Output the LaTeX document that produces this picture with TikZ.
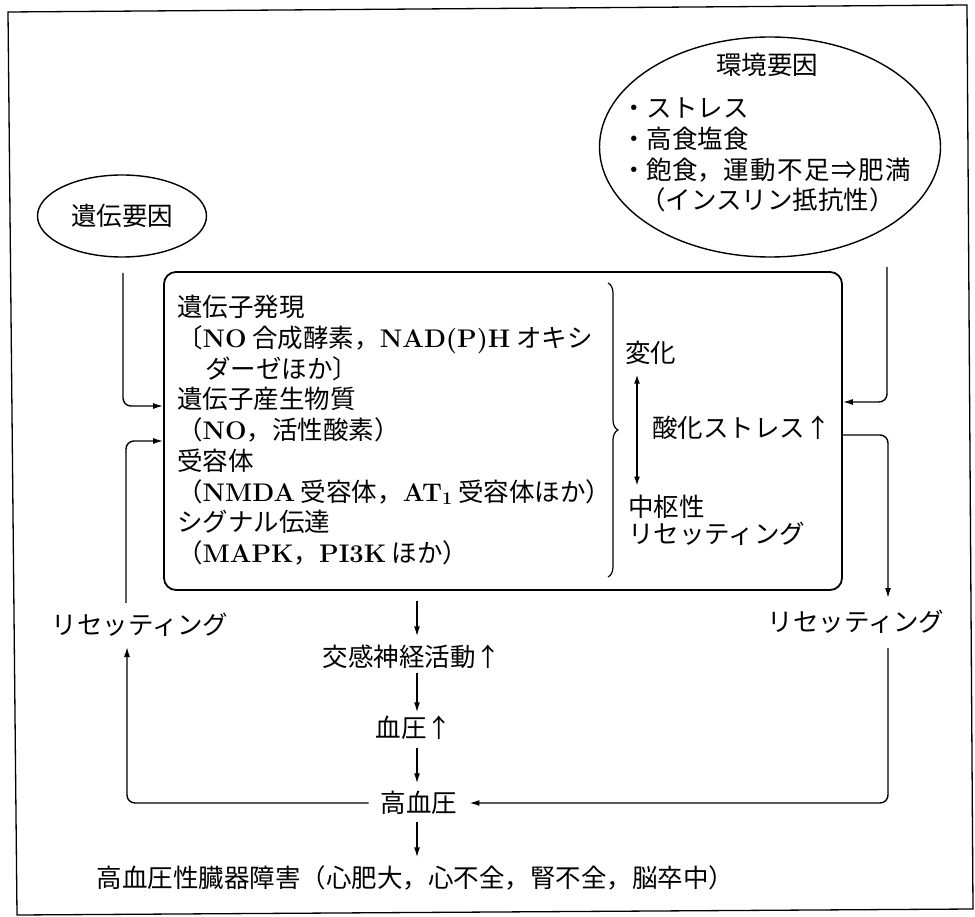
\documentclass[tikz,border=0pt]{standalone}
\usepackage{fontspec}
\newfontfamily\jp{Noto Sans CJK JP}
\usetikzlibrary{shapes.geometric,arrows.meta,calc,decorations.pathreplacing}
\newcommand\B[1]{{\normalfont\bfseries #1}}
\begin{document}
\begin{tikzpicture}[x=1pt,y=-1pt,
  ln/.style={line width=1.4pt},
  arr/.style={ln,-{Latex[length=10pt,width=6pt]}},
  arrtwo/.style={ln,{Latex[length=9pt,width=6pt]}-{Latex[length=9pt,width=6pt]}},
  jpf/.style={font=\jp\fontsize{25.5}{30.75}\selectfont},
  lab/.style={jpf,inner sep=3pt,text height=22pt,text depth=3pt},
  blk/.style={jpf,inner sep=0pt,align=left,anchor=north west},
  ell/.style={ellipse,draw,line width=1.4pt,inner sep=0pt}
]
\useasboundingbox (0,0) rectangle (975,917);
% outer frame
\draw[line width=1.3pt] (8,12) -- (967,5) -- (973,909) -- (17,915) -- cycle;

% factors
\node[ell,lab,minimum width=169pt,minimum height=82pt] (gen) at (122,216) {遺伝要因};
\node[ell,minimum width=341pt,minimum height=220pt] (env) at (770,147) {};
\node[lab] (envT) at (767,65) {環境要因};
\node[blk] (envL) at (621,95.5) {\rule{0pt}{22pt}・ストレス\\・高食塩食\\・飽食，{\addfontfeature{LetterSpace=6}運動不足⇒肥満}\\\hspace*{19pt}（インスリン抵抗性）};

% main box
\node[draw,line width=1.8pt,rounded corners=12pt,minimum width=678pt,minimum height=318pt,inner sep=0pt] (core) at (503,431) {};
\node[blk] (lst) at (177,294.5) {\rule{0pt}{22pt}遺伝子発現\\
〔\B{NO} 合成酵素，\B{NAD(P)H} オキシ\\
\hspace*{28pt}ダーゼほか〕\\
遺伝子産生物質\\
（\B{NO}，活性酸素）\\
受容体\\
（\B{NMDA} 受容体，\B{AT\textsubscript{1}} 受容体ほか）\\
シグナル伝達\\
（\B{MAPK}，\B{PI3K} ほか）};
\coordinate (b1) at (608,283);
\coordinate (b2) at (608,577);
\draw[line width=1.2pt,decorate,decoration={brace,amplitude=10pt}] (b1) -- (b2);
\node[lab,anchor=west] (henka) at (622,353) {変化};
\node[lab,anchor=west] (sanka) at (649,428) {酸化ストレス↑};
\node[blk,font=\jp\fontsize{25.5}{27}\selectfont] (chusu) at (628,494.5) {\rule{0pt}{22pt}中枢性\\リセッティング};
\coordinate (dx) at (637,0);
\draw[arrtwo,shorten <=6pt,shorten >=9pt] (henka.south -| dx) -- (chusu.north -| dx);

% lower chain
\coordinate (cx) at (417,0);
\node[lab] (symp) at (412,657) {交感神経活動↑};
\node[lab] (bp) at (414,728) {血圧↑};
\node[lab,inner xsep=12pt] (hbp) at (419,803) {高血圧};
\node[lab] (bot) at (415.5,878) {高血圧性臓器障害（心肥大，心不全，腎不全，脳卒中）};
\node[lab] (resL) at (140,625) {リセッティング};
\node[lab] (resR) at (856,622) {リセッティング};

\draw[arr,shorten <=10pt,shorten >=5pt] (core.south -| cx) -- (symp.north -| cx);
\draw[arr] (symp.south -| cx) -- (bp.north -| cx);
\draw[arr,shorten <=4pt,shorten >=4pt] (bp.south -| cx) -- (hbp.north -| cx);
\draw[arr,shorten <=3pt,shorten >=5pt] (hbp.south -| cx) -- (bot.north -| cx);

% left loop
\coordinate (g0) at (123,273);
\draw[arr,rounded corners=8pt] (g0) |- ($(core.west)+(0,-25)$);
\coordinate (l1) at (126,603);
\draw[arr,rounded corners=8pt] (l1) |- ($(core.west)+(0,10)$);
\coordinate (l2) at (127,647);
\draw[arr,rounded corners=8pt] (hbp.west) -| (l2);

% right loop
\coordinate (r0) at (887,267);
\draw[arr,rounded corners=8pt] (r0) |- ($(core.east)+(0,-29)$);
\coordinate (r1) at (888,598);
\draw[arr,rounded corners=8pt] ($(core.east)+(0,4)$) -| (r1);
\coordinate (r2) at (888,648);
\draw[arr,rounded corners=8pt] (r2) |- (hbp.east);
\end{tikzpicture}
\end{document}
